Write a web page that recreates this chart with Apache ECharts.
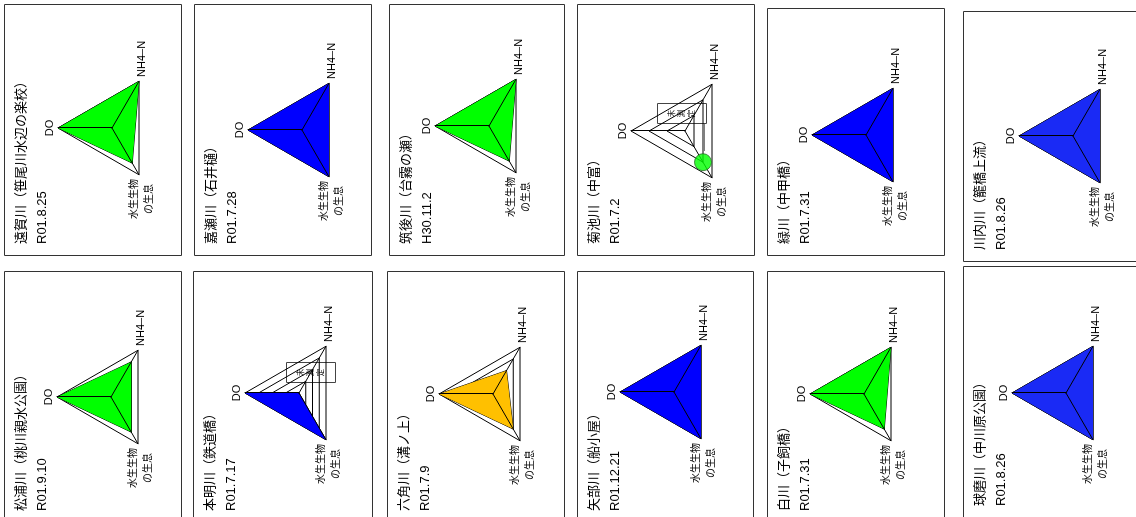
<!DOCTYPE html>
<html>
<head>
<meta charset="utf-8">
<script src="https://cdn.jsdelivr.net/npm/echarts@6/dist/echarts.min.js"></script>
<style>
  html, body { margin: 0; padding: 0; background: #fff; overflow: hidden; }
  #wrap { position: absolute; left: 0; top: 0; width: 1136px; height: 517px; overflow: hidden; }
  /* the panels are drawn upright and the whole sheet is turned a quarter to the left */
  #chart { position: absolute; left: 0; top: 0; width: 517px; height: 1136px;
    transform-origin: 0 0; transform: translate(0, 517px) rotate(-90deg); }
</style>
</head>
<body>
<div id="wrap"><div id="chart"></div></div>
<script>
const indicators = ['DO', '水生生物\nの生息', 'NH4–N'];
const rivers = [
  '遠賀川（笹尾川水辺の楽校）', '嘉瀬川（石井樋）', '筑後川（台霧の瀬）', '菊池川（中富）', '緑川（中甲橋）', '川内川（籠橋上流）',
  '松浦川（桃川親水公園）', '本明川（鉄道橋）', '六角川（溝ノ上）', '矢部川（船小屋）', '白川（子飼橋）', '球磨川（中川原公園）'
];
const dates = ['R01.8.25', 'R01.7.28', 'H30.11.2', 'R01.7.2', 'R01.7.31', 'R01.8.26',
  'R01.9.10', 'R01.7.17', 'R01.7.9', 'R01.12.21', 'R01.7.31', 'R01.8.26'];
// null = 未測定
const doValues   = [4, 4, 4, null, 4, 4, 4, 4, 4, 4, 4, 4];
const lifeValues = [3, 4, 3, 2, 4, 4, 3, 4, 3, 4, 3, 4];
const nh4Values  = [4, 4, 4, null, 4, 4, 3, null, 2, 4, 4, 4];
const scaleMax   = [4, 4, 4, 3, 4, 4, 4, 4, 4, 4, 4, 4];
const fillColors = ['#00ff00', '#0000ff', '#00ff00', null, '#0000ff', '#1a2af5',
  '#00ff00', '#0000ff', '#ffc000', '#0000ff', '#00ff00', '#1a2af5'];

// layout, in the upright (unrotated) frame
const boxX = [261, 261, 261, 261, 261, 255, -6, -6, -6, -6, -6, -1];
const boxY = [4, 194, 389, 577, 767, 963, 4, 193, 387, 577, 767, 963];
const boxW = [251, 251, 251, 251, 247, 250, 251, 251, 251, 251, 251, 251];
const boxH = [177, 177, 175, 177, 177, 177, 177, 179, 177, 176, 177, 177];
const centerX = [389, 387, 391, 386, 382, 381, 120, 124, 123, 125, 123, 124];
const centerY = [112, 302, 489, 685, 866, 1073, 111, 299, 493, 674, 864, 1066];
const radius = 54;
const notes = [{ panel: 3, dx: 7, dy: -28 }, { panel: 7, dx: 10, dy: -13 }];

const font = "'Liberation Sans', 'Noto Sans CJK JP', sans-serif";
const radars = [], series = [], titles = [], graphics = [];

function axisNameText(name) {
  if (name.indexOf('\n') < 0) return '{a|' + name + '}';
  return name.split('\n').map(s => '{j|' + s + '}').join('\n');
}

rivers.forEach((name, i) => {
  const center = [centerX[i], centerY[i]];
  const indicator = indicators.map((n, k) => ({ name: n, min: 0, max: scaleMax[i], nameGap: k === 0 ? 3 : 5 }));
  radars.push({
    center, radius, startAngle: 90, shape: 'polygon', splitNumber: scaleMax[i], indicator, z: 1,
    nameGap: 5,
    axisName: {
      color: '#000', fontFamily: font,
      formatter: axisNameText,
      rich: {
        a: { fontSize: 11, fontFamily: font, color: '#000' },
        j: { fontSize: 10, lineHeight: 15, fontFamily: font, color: '#000', align: 'center' },
      },
    },
    axisLine: { show: false },
    axisTick: { show: false },
    axisLabel: { show: false },
    splitLine: { lineStyle: { color: '#000', width: 1 } },
    splitArea: { show: false },
  });
  // second copy only for the spokes, so they sit on top of the filled area
  radars.push({
    center, radius, startAngle: 90, shape: 'polygon', splitNumber: scaleMax[i], indicator, z: 3,
    axisName: { show: false },
    axisLine: { lineStyle: { color: '#000', width: 1 } },
    axisTick: { show: false },
    axisLabel: { show: false },
    splitLine: { show: false },
    splitArea: { show: false },
  });
  if (fillColors[i]) {
    series.push({
      type: 'radar', radarIndex: 2 * i, z: 2, symbol: 'none', silent: true,
      lineStyle: { color: '#000', width: 1 },
      areaStyle: { color: fillColors[i], opacity: 1 },
      data: [{ name, value: [doValues[i], lifeValues[i], nh4Values[i]].map(v => v == null ? '-' : v) }],
    });
  }
  titles.push({
    text: name, subtext: dates[i],
    left: boxX[i] + 12, top: boxY[i] + 11, padding: 0, itemGap: 8,
    textStyle: { fontSize: 13, fontWeight: 'normal', color: '#000', fontFamily: font },
    subtextStyle: { fontSize: 13, color: '#000', fontFamily: font },
  });
  graphics.push({
    type: 'rect', silent: true, z: 0,
    shape: { x: boxX[i] + 0.5, y: boxY[i] + 0.5, width: boxW[i], height: boxH[i] },
    style: { fill: 'none', stroke: '#333', lineWidth: 1 },
  });
});

// 菊池川: only 水生生物の生息 was measured, shown as a single marker
const kikuchi = 3;

notes.forEach(n => {
  const cx = centerX[n.panel], cy = centerY[n.panel];
  graphics.push({
    type: 'group', x: cx + n.dx, y: cy + n.dy, z: 10,
    children: [
      { type: 'rect', shape: { x: 0.5, y: 0.5, width: 20, height: 49 },
        style: { fill: '#fff', stroke: '#444', lineWidth: 1 } },
      { type: 'text', x: 10.5, y: 25,
        style: { text: '未\n測\n定', fontSize: 7.5, lineHeight: 10, fontFamily: font, fill: '#000',
          align: 'center', verticalAlign: 'middle' } },
    ],
  });
});
graphics.push({
  type: 'line', silent: true, z: 9,
  shape: { x1: centerX[kikuchi] - 20, y1: centerY[kikuchi] + 19, x2: centerX[kikuchi] + 7, y2: centerY[kikuchi] + 19 },
  style: { stroke: '#808080', lineWidth: 2 },
});

series.push({
  type: 'scatter', coordinateSystem: 'polar', z: 11, silent: true,
  symbolSize: 17,
  itemStyle: { color: '#00ff00', borderColor: '#2a6b2a', borderWidth: 1 },
  data: [[lifeValues[kikuchi], indicators[1]]],
});

const chart = echarts.init(document.getElementById('chart'));
chart.setOption({
  animation: false,
  title: titles,
  radar: radars,
  polar: { center: [centerX[kikuchi], centerY[kikuchi]], radius },
  angleAxis: { type: 'category', data: indicators, startAngle: 90, clockwise: false, boundaryGap: false, show: false },
  radiusAxis: { min: 0, max: scaleMax[kikuchi], show: false },
  graphic: graphics,
  series,
});
</script>
</body>
</html>
